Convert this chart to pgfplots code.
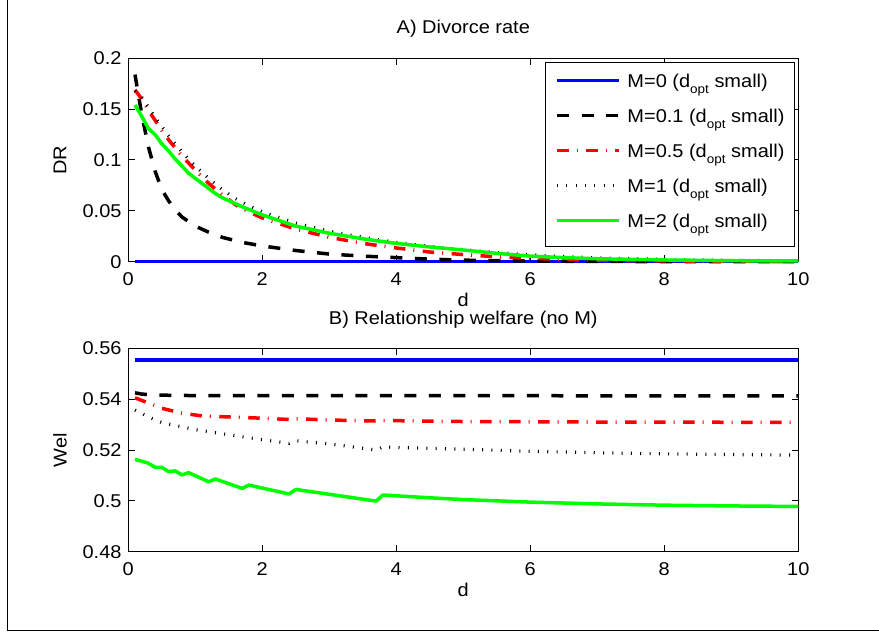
\documentclass[border=0pt]{standalone}
\usepackage{fontspec}
\setmainfont[FakeStretch=1.08]{Liberation Sans}
\usepackage{pgfplots}
\pgfplotsset{compat=1.18}
\newcommand\f{\fontsize{18.5}{21}\selectfont}
\newcommand\sub[1]{\raisebox{-6pt}{\fontsize{12.5}{12.5}\selectfont #1}}
\definecolor{mblue}{rgb}{0,0,1}
\definecolor{mgreen}{rgb}{0,1,0}
\definecolor{mred}{rgb}{1,0,0}
\pgfplotsset{
  mystyle/.style={
    scale only axis, width=670pt, height=203.4pt,
    xmin=0, xmax=10, xtick={0,2,4,6,8,10}, xticklabels={0,2,4,6,8,10},
    xtick pos=both, ytick pos=both, xticklabel pos=lower, yticklabel pos=left,
    tick align=inside, major tick length=6.7pt,
    axis line style={line width=1pt}, every tick/.style={line width=1pt, black},
    font=\f, ticklabel style={font=\f},
    xticklabel style={anchor=base, yshift=-23.3pt, inner sep=0pt},
    yticklabel style={anchor=east, xshift=-6.6pt, inner sep=0pt},
    xlabel=d,
    xlabel style={at={(axis description cs:0.5,0)}, anchor=base, yshift=-44.8pt, inner sep=0pt},
    ylabel style={at={(axis description cs:-0.102,0.5)}, anchor=center, inner sep=0pt},
    title style={at={(axis description cs:0.5,1)}, anchor=base, yshift=18.3pt, inner sep=0pt, font=\f},
    clip=false,
    sB/.style={mblue, line width=3.5pt},
    sK/.style={black, line width=3.5pt, dash pattern=on 12pt off 12.5pt},
    sR/.style={mred, line width=3.5pt, dash pattern=on 11.5pt off 8pt on 1pt off 8.5pt},
    sD/.style={black, line width=3.2pt, dash pattern=on 1pt off 8.3pt},
    sG/.style={mgreen, line width=3.5pt, line join=round},
  }
}
\begin{document}
\begin{tikzpicture}[x=1pt,y=1pt]
\useasboundingbox (0,0) rectangle (879,633);
\draw[line width=1pt] (7.3,633) -- (7.3,3) -- (879,3);

\begin{axis}[mystyle, at={(128.3pt,371.3pt)}, anchor=south west,
  ymin=0, ymax=0.2, ytick={0,0.05,0.1,0.15,0.2}, yticklabels={0,0.05,0.1,0.15,0.2},
  ylabel=DR, title={A) Divorce rate},
  legend style={at={(axis description cs:0.995,0.983)}, anchor=north east,
    draw=black, line width=1pt, fill=white, inner xsep=10pt, inner ysep=11pt,
    row sep=13.1pt, font=\f,
    nodes={inner sep=0pt, text height=14pt, text depth=8pt}},
  legend cell align=left,
  /tikz/every odd column/.append style={column sep=6.7pt},
  legend image code/.code={\draw[#1] (0pt,4pt) -- (62pt,4pt);},
]
\addplot[sB] coordinates {(0.1,0) (10,0)};
\addplot[sK] coordinates {(0.1,0.184) (0.2,0.145) (0.3,0.113) (0.4,0.089) (0.5,0.071) (0.6,0.060) (0.7,0.051) (0.8,0.044) (1.0,0.035) (1.2,0.029) (1.4,0.024) (1.7,0.019) (2.0,0.0155) (2.5,0.011) (3.0,0.0075) (3.5,0.0055) (4.0,0.004) (4.5,0.0025) (5.0,0.0015) (6.0,0.0006) (7.0,0.0003) (8.0,0.0001) (10,0)};
\addplot[sR] coordinates {(0.1,0.169) (0.2,0.160) (0.3,0.149) (0.4,0.139) (0.5,0.129) (0.6,0.120) (0.7,0.112) (0.8,0.104) (0.9,0.097) (1.0,0.090) (1.2,0.077) (1.4,0.066) (1.6,0.056) (1.8,0.049) (2.0,0.043) (2.5,0.032) (3.0,0.024) (3.5,0.018) (4.0,0.0135) (4.5,0.0095) (5.0,0.007) (5.5,0.0048) (6.0,0.0033) (6.5,0.0022) (7.0,0.0015) (8.0,0.0007) (9.0,0.0003) (10,0.0001)};
\addplot[sD] coordinates {(0.1,0.168) (0.2,0.162) (0.3,0.152) (0.4,0.142) (0.5,0.133) (0.6,0.124) (0.7,0.116) (0.8,0.108) (0.9,0.101) (1.0,0.094) (1.2,0.082) (1.4,0.071) (1.6,0.062) (1.8,0.055) (2.0,0.049) (2.5,0.038) (3.0,0.030) (3.5,0.024) (4.0,0.019) (4.5,0.0150) (5.0,0.0118) (5.5,0.0090) (6.0,0.0068) (6.5,0.0050) (7.0,0.0038) (8.0,0.0022) (9.0,0.0013) (10,0.0008)};
\addplot[sG] coordinates {(0.1,0.154) (0.2,0.143) (0.3,0.131) (0.4,0.125) (0.5,0.116) (0.6,0.109) (0.7,0.101) (0.8,0.094) (0.9,0.087) (1.0,0.082) (1.1,0.077) (1.2,0.072) (1.3,0.067) (1.4,0.063) (1.5,0.060) (1.7,0.054) (2.0,0.046) (2.5,0.035) (3.0,0.028) (3.5,0.0225) (4.0,0.0180) (4.5,0.0145) (5.0,0.0115) (5.5,0.0082) (6.0,0.0055) (6.5,0.0040) (7.0,0.0029) (8.0,0.0017) (9.0,0.0010) (10,0.0007)};
\legend{M=0 (d\sub{opt} small), M=0.1 (d\sub{opt} small), M=0.5 (d\sub{opt} small), M=1 (d\sub{opt} small), M=2 (d\sub{opt} small)}
\end{axis}

\begin{axis}[mystyle, at={(128.3pt,81.3pt)}, anchor=south west,
  ymin=0.48, ymax=0.56, ytick={0.48,0.5,0.52,0.54,0.56}, yticklabels={0.48,0.5,0.52,0.54,0.56},
  ylabel=Wel, title={B) Relationship welfare (no M)},
]
\addplot[sB] coordinates {(0.1,0.5554) (10,0.5554)};
\addplot[sK] coordinates {(0.1,0.5425) (0.2,0.5420) (0.4,0.5416) (1.0,0.5414) (10,0.5413)};
\addplot[sR] coordinates {(0.1,0.5405) (0.3,0.5385) (0.5,0.5364) (0.8,0.5345) (1.1,0.5334) (1.5,0.5330) (2.0,0.5325) (2.4,0.5320) (2.5,0.5323) (3.0,0.5318) (3.7,0.5314) (3.8,0.5316) (5.0,0.5312) (6.0,0.5311) (7.0,0.5310) (8.0,0.5310) (9.0,0.5309) (10,0.5309)};
\addplot[sD] coordinates {(0.1,0.5357) (0.3,0.5330) (0.5,0.5308) (1.0,0.5280) (1.7,0.5252) (2.4,0.5226) (2.5,0.5236) (3.0,0.5224) (3.7,0.5200) (3.8,0.5212) (5.0,0.5203) (6.0,0.5195) (7.0,0.5189) (8.0,0.5185) (9.0,0.5182) (10,0.5180)};
\addplot[sG] coordinates {(0.1,0.5163) (0.2,0.5156) (0.3,0.5148) (0.4,0.5132) (0.5,0.5132) (0.6,0.5115) (0.7,0.5118) (0.8,0.5102) (0.9,0.5111) (1.2,0.5075) (1.3,0.5086) (1.7,0.5049) (1.8,0.5062) (2.4,0.5027) (2.5,0.5045) (3.7,0.4999) (3.8,0.5023) (4.5,0.5012) (5.0,0.5005) (6.0,0.4995) (7.0,0.4988) (8.0,0.4983) (9.0,0.4980) (10,0.4978)};
\end{axis}
\end{tikzpicture}
\end{document}
